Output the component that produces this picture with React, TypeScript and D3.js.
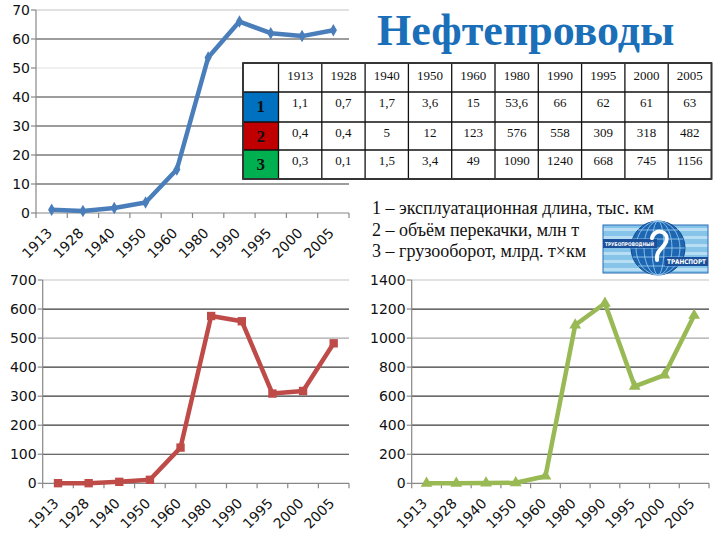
import React from 'react';
import * as d3 from 'd3';

const years = ['1913', '1928', '1940', '1950', '1960', '1980', '1990', '1995', '2000', '2005'];
const lengthData = [1.1, 0.7, 1.7, 3.6, 15, 53.6, 66, 62, 61, 63];
const volumeData = [0.4, 0.4, 5, 12, 123, 576, 558, 309, 318, 482];
const turnoverData = [0.3, 0.1, 1.5, 3.4, 49, 1090, 1240, 668, 745, 1156];
const lengthLabels = ['1,1', '0,7', '1,7', '3,6', '15', '53,6', '66', '62', '61', '63'];
const volumeLabels = ['0,4', '0,4', '5', '12', '123', '576', '558', '309', '318', '482'];
const turnoverLabels = ['0,3', '0,1', '1,5', '3,4', '49', '1090', '1240', '668', '745', '1156'];
const legendLines = [
  '1 – эксплуатационная длина, тыс. км',
  '2 – объём перекачки, млн т',
  '3 – грузооборот, млрд. т×км',
];
const title = 'Нефтепроводы';

const AXIS_FONT = '"DejaVu Sans", Verdana, sans-serif';
const SERIF = '"Liberation Serif", "Times New Roman", serif';

type ChartProps = {
  data: number[];
  left: number; right: number; top: number; bottom: number;
  max: number; step: number;
  color: string;
  marker: d3.SymbolType;
  markerSize: number;
  gridColors: string[];
};

function LineChart({ data, left, right, top, bottom, max, step, color, marker, markerSize, gridColors }: ChartProps) {
  const x = d3.scaleBand<string>().domain(years).range([left, right]);
  const y = d3.scaleLinear().domain([0, max]).range([bottom, top]);
  const ticks = d3.range(0, max + step / 2, step);
  const line = d3.line<number>()
    .x((_, i) => (x(years[i]) as number) + x.bandwidth() / 2)
    .y((d) => y(d));
  const sym = d3.symbol().type(marker).size(markerSize)();
  const boundaries = years.map((yr) => x(yr) as number).concat([right]);
  return (
    <g>
      {ticks.slice(1).map((t) => {
        const idx = Math.round((max - t) / step);
        return (
          <line key={'g' + t} x1={left} x2={right} y1={y(t)} y2={y(t)}
            stroke={gridColors[Math.min(idx, gridColors.length - 1)]} strokeWidth={1.2} />
        );
      })}
      <line x1={left} x2={left} y1={top} y2={bottom} stroke="#888" strokeWidth={1.2} />
      <line x1={left} x2={right} y1={bottom} y2={bottom} stroke="#888" strokeWidth={1.2} />
      {ticks.map((t) => (
        <g key={'yt' + t}>
          <line x1={left - 5} x2={left} y1={y(t)} y2={y(t)} stroke="#888" strokeWidth={1.2} />
          <text x={left - 6} y={y(t)} dy="0.36em" textAnchor="end" fontFamily={AXIS_FONT} fontSize={14} fill="#111">{t}</text>
        </g>
      ))}
      {boundaries.map((b, i) => (
        <line key={'xt' + i} x1={b} x2={b} y1={bottom} y2={bottom + 5} stroke="#888" strokeWidth={1.2} />
      ))}
      {years.map((yr) => {
        const cx = (x(yr) as number) + x.bandwidth() / 2;
        return (
          <text key={'xl' + yr} transform={`translate(${cx + 1.5},${bottom + 21}) rotate(-45)`}
            textAnchor="end" fontFamily={AXIS_FONT} fontSize={14} fill="#111">{yr}</text>
        );
      })}
      <path d={line(data) || ''} fill="none" stroke={color} strokeWidth={4.5} strokeLinejoin="round" />
      {data.map((d, i) => (
        <path key={'m' + i} d={sym || ''} fill={color}
          transform={`translate(${(x(years[i]) as number) + x.bandwidth() / 2},${y(d)})`} />
      ))}
    </g>
  );
}

function DataTable() {
  const left = 243;
  const firstW = 35.5;
  const colW = 43.3;
  const rowTops = [63, 92, 122, 150, 179];
  const rows = [lengthLabels, volumeLabels, turnoverLabels];
  const rowColors = ['#0070c0', '#c00000', '#00b050'];
  const colX = (i: number) => left + firstW + i * colW;
  const right = colX(years.length);
  return (
    <g>
      <rect x={left} y={rowTops[0]} width={right - left} height={rowTops[4] - rowTops[0]} fill="#fff" />
      {rowColors.map((c, r) => (
        <rect key={'c' + r} x={left} y={rowTops[r + 1]} width={firstW} height={rowTops[r + 2] - rowTops[r + 1]} fill={c} />
      ))}
      {rowTops.map((ty, i) => (
        <line key={'h' + i} x1={left} x2={right} y1={ty} y2={ty} stroke="#111" strokeWidth={1.3} />
      ))}
      {d3.range(years.length + 1).map((i) => (
        <line key={'v' + i} x1={colX(i)} x2={colX(i)} y1={rowTops[0]} y2={rowTops[4]} stroke="#111" strokeWidth={1.3} />
      ))}
      <line x1={left} x2={left} y1={rowTops[0]} y2={rowTops[4]} stroke="#111" strokeWidth={1.3} />
      <rect x={left} y={rowTops[0]} width={right - left} height={rowTops[4] - rowTops[0]} fill="none" stroke="#333" strokeWidth={1.8} />
      {years.map((yr, i) => (
        <text key={'hy' + yr} x={colX(i) + colW / 2} y={rowTops[0] + 16.5} textAnchor="middle" fontFamily={SERIF} fontSize={13} fill="#111">{yr}</text>
      ))}
      {rows.map((vals, r) => (
        <g key={'r' + r}>
          <text x={left + firstW / 2} y={rowTops[r + 1] + 20} textAnchor="middle" fontFamily={SERIF} fontWeight="bold" fontSize={17} fill="#111">{r + 1}</text>
          {vals.map((v, i) => (
            <text key={'v' + i} x={colX(i) + colW / 2} y={rowTops[r + 1] + 15} textAnchor="middle" fontFamily={SERIF} fontSize={13} fill="#111">{v}</text>
          ))}
        </g>
      ))}
    </g>
  );
}

function Logo() {
  const x0 = 603, y0 = 225, w = 105, h = 48;
  const cx = 658, cy = 248, r = 27;
  return (
    <g>
      <rect x={x0} y={y0} width={w} height={h} fill="#86c4ea" />
      {d3.range(6).map((i) => (
        <rect key={'s' + i} x={x0} y={y0 + 3 + i * 8} width={w} height={3} fill="#b9def4" />
      ))}
      <rect x={x0} y={y0} width={w} height={h} fill="none" stroke="#2a6db5" strokeWidth={1} />
      <circle cx={cx} cy={cy} r={r} fill="#1d66b2" stroke="#0f4a8c" strokeWidth={1} />
      {[-18, -9, 0, 9, 18].map((dy) => {
        const hw = Math.sqrt(Math.max(0, r * r - dy * dy));
        return <line key={'lat' + dy} x1={cx - hw} x2={cx + hw} y1={cy + dy} y2={cy + dy} stroke="#9fd0f2" strokeWidth={0.8} />;
      })}
      {[6, 14, 22].map((rx) => (
        <ellipse key={'lon' + rx} cx={cx} cy={cy} rx={rx} ry={r} fill="none" stroke="#9fd0f2" strokeWidth={0.8} />
      ))}
      <rect x={x0} y={y0 + 14} width={54} height={9} fill="#1b4f99" />
      <text x={x0 + 2} y={y0 + 20.5} fontFamily={AXIS_FONT} fontWeight="bold" fontSize={5} textLength={49} lengthAdjust="spacingAndGlyphs" fill="#fff">ТРУБОПРОВОДНЫЙ</text>
      <rect x={x0 + 62} y={y0 + 32} width={43} height={9} fill="#1b4f99" />
      <text x={x0 + 64} y={y0 + 39} fontFamily={AXIS_FONT} fontWeight="bold" fontSize={6.5} textLength={39} lengthAdjust="spacingAndGlyphs" fill="#fff">ТРАНСПОРТ</text>
      <path d={`M${cx - 6},${cy - 10} C${cx - 4},${cy - 20} ${cx + 12},${cy - 18} ${cx + 8},${cy - 6} C${cx + 5},${cy + 1} ${cx - 2},${cy + 2} ${cx - 1},${cy + 12}`}
        fill="none" stroke="#fff" strokeWidth={4} strokeLinecap="round" />
    </g>
  );
}

export default function App() {
  return (
    <div style={{ position: 'absolute', left: 0, top: 0, width: 720, height: 540, background: '#fff' }}>
      <svg width={720} height={540} style={{ display: 'block' }}>
        <rect width={720} height={540} fill="#fff" />
        <LineChart data={lengthData} left={36} right={349} top={10} bottom={213} max={70} step={10}
          color="#4a7ebb" marker={d3.symbolDiamond} markerSize={45}
          gridColors={['#c4c4c4', '#3a3a3a', '#e0e0e0', '#3a3a3a']} />
        <LineChart data={volumeData} left={42.7} right={349} top={280} bottom={483.3} max={700} step={100}
          color="#be4b48" marker={d3.symbolSquare} markerSize={70}
          gridColors={['#c4c4c4', '#3a3a3a', '#a8a8a8', '#3a3a3a']} />
        <LineChart data={turnoverData} left={411.7} right={709} top={280} bottom={483.3} max={1400} step={200}
          color="#98b954" marker={d3.symbolTriangle} markerSize={60}
          gridColors={['#c4c4c4', '#3a3a3a', '#a8a8a8', '#3a3a3a']} />
        <DataTable />
        <text x={377} y={45} fontFamily={SERIF} fontWeight="bold" fontSize={44} fill="#1a6fb8">{title}</text>
        {legendLines.map((l, i) => (
          <text key={'lg' + i} x={372} y={214 + i * 21.5} fontFamily={SERIF} fontSize={18} fill="#111">{l}</text>
        ))}
        <Logo />
      </svg>
    </div>
  );
}
